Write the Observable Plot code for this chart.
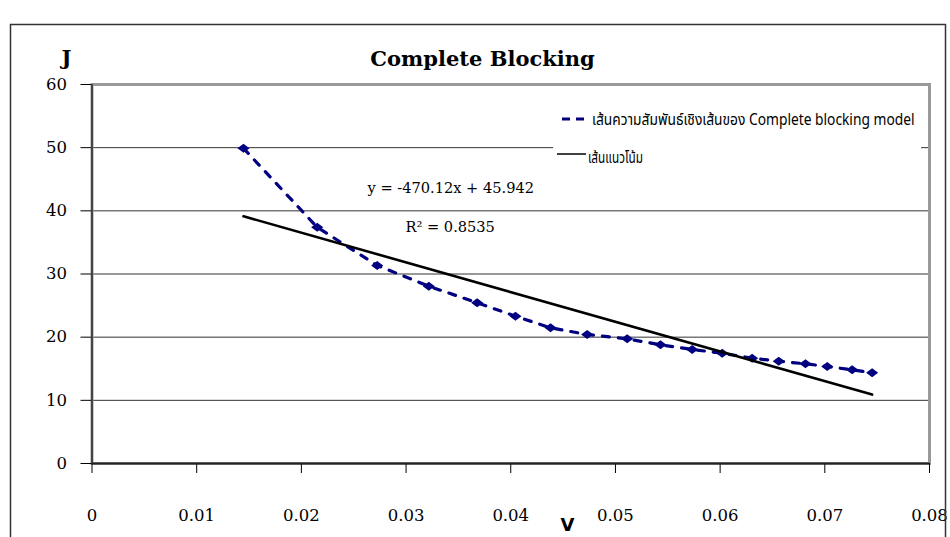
<!DOCTYPE html>
<html>
<head>
<meta charset="utf-8">
<script src="https://cdn.jsdelivr.net/npm/d3@7"></script>
<script src="https://cdn.jsdelivr.net/npm/@observablehq/plot@0.6"></script>
<style>
  html, body { margin: 0; padding: 0; background: #fff; }
  svg { display: block; }
</style>
</head>
<body>
<div id="chart"></div>
<script>
// ---- data ----
const vValues = [0.01447, 0.02151, 0.02724, 0.03217, 0.03679, 0.04045, 0.0438, 0.0473, 0.05112,
                 0.0543, 0.05733, 0.0602, 0.06306, 0.0656, 0.06815, 0.07023, 0.07261, 0.07452];
const jValues = [49.9, 37.4, 31.35, 28.07, 25.44, 23.32, 21.48, 20.42, 19.74,
                 18.79, 18.05, 17.46, 16.67, 16.2, 15.78, 15.36, 14.83, 14.36];
const trendV = [0.01447, 0.07452];
const trendJ = [39.14, 10.91];
const yTicks = [0, 10, 20, 30, 40, 50, 60];
const gridJ = [10, 20, 30, 40, 50];
const xTicks = [0, 0.01, 0.02, 0.03, 0.04, 0.05, 0.06, 0.07, 0.08];
const xTickLabels = ["0", "0.01", "0.02", "0.03", "0.04", "0.05", "0.06", "0.07", "0.08"];
const titleText = "Complete Blocking";
const yLabel = "J";
const xLabel = "V";
const eqText = "y = -470.12x + 45.942";
const r2Text = "R² = 0.8535";
const legendModel = "เส้นความสัมพันธ์เชิงเส้นของ Complete blocking model";
const legendTrend = "เส้นแนวโน้ม";

const points = vValues.map((v, i) => ({v, j: jValues[i]}));
const trend = trendV.map((v, i) => ({v, j: trendJ[i]}));

const serif = "'DejaVu Serif', 'Liberation Serif', serif";
const navy = "#000080";

// a diamond that is a little wider than tall, as in the reference
const wideDiamond = {
  draw(context, size) {
    const s = Math.sqrt(size);
    const w = s * 0.62, h = s * 0.46;
    context.moveTo(-w, 0);
    context.lineTo(0, -h);
    context.lineTo(w, 0);
    context.lineTo(0, h);
    context.closePath();
  }
};

const plot = Plot.plot({
  width: 950,
  height: 537,
  marginLeft: 91.5,
  marginRight: 21,
  marginTop: 84,
  marginBottom: 74,
  style: {fontFamily: serif, background: "white", overflow: "visible"},
  x: {domain: [0, 0.08]},
  y: {domain: [0, 60]},
  marks: [
    Plot.ruleY(gridJ, {stroke: "#333", strokeWidth: 1}),
    Plot.frame({stroke: "#999", strokeWidth: 3}),
    Plot.axisY({ticks: yTicks, tickSize: 11, tickPadding: 14, fontSize: 16.5, label: null,
                tickFormat: d => String(d), color: "#000"}),
    Plot.axisX({ticks: xTicks, tickSize: 10, tickPadding: 36, fontSize: 16.5, label: null,
                tickFormat: d => xTickLabels[xTicks.indexOf(d)], color: "#000"}),
    Plot.ruleX([0], {stroke: "#444", strokeWidth: 2}),
    Plot.ruleY([0], {stroke: "#222", strokeWidth: 2}),
    Plot.line(points, {x: "v", y: "j", stroke: navy, strokeWidth: 3.2, strokeDasharray: "7,9"}),
    Plot.dot(points, {x: "v", y: "j", symbol: wideDiamond, r: 5.5, fill: navy, stroke: null}),
    Plot.line(trend, {x: "v", y: "j", stroke: "#000", strokeWidth: 2.6}),
    Plot.text([eqText], {frameAnchor: "top-left", dx: 367 - 91.5, dy: 188 - 84, textAnchor: "start",
                         lineAnchor: "middle", fontSize: 14.6, fill: "#000"}),
    Plot.text([r2Text], {frameAnchor: "top-left", dx: 405 - 91.5, dy: 227 - 84, textAnchor: "start",
                         lineAnchor: "middle", fontSize: 14.6, fill: "#000"}),
    Plot.text([titleText], {frameAnchor: "top-left", dx: 482 - 91.5, dy: -19, textAnchor: "middle",
                            lineAnchor: "bottom", fontSize: 21, fontWeight: "bold", fill: "#000"}),
    Plot.text([yLabel], {frameAnchor: "top-left", dx: 66 - 91.5, dy: -20, textAnchor: "middle",
                         lineAnchor: "bottom", fontSize: 21, fontWeight: "bold", fill: "#000"}),
    Plot.text([xLabel], {frameAnchor: "bottom-left", dx: 567 - 91.5, dy: 67, textAnchor: "middle",
                         lineAnchor: "bottom", fontSize: 18, fontWeight: "bold",
                         fontFamily: "'DejaVu Sans', sans-serif", fill: "#000"})
  ]
});

document.getElementById("chart").appendChild(plot);

// outer chart-area border and legend (decoration)
const svg = d3.select(plot);
svg.append("rect")
  .attr("x", 10.5).attr("y", 24.5).attr("width", 935).attr("height", 600)
  .attr("fill", "none").attr("stroke", "#333").attr("stroke-width", 1.5);

const legFont = "'Liberation Sans Narrow', 'Arial Narrow', 'Noto Sans Thai', 'Loma', sans-serif";
const leg = svg.append("g");
leg.append("rect").attr("x", 553).attr("y", 96).attr("width", 368).attr("height", 78)
  .attr("fill", "#ffffff").attr("stroke", "none");
leg.append("line").attr("x1", 562).attr("x2", 584).attr("y1", 119).attr("y2", 119)
  .attr("stroke", navy).attr("stroke-width", 3).attr("stroke-dasharray", "8,6");
leg.append("line").attr("x1", 557).attr("x2", 586).attr("y1", 154).attr("y2", 154)
  .attr("stroke", "#000").attr("stroke-width", 1.5);

function legendText(str, x, y, targetWidth) {
  const t = leg.append("text").attr("x", 0).attr("y", 0)
    .attr("dominant-baseline", "middle").attr("text-anchor", "start")
    .attr("font-family", legFont).attr("font-size", 16.5).attr("fill", "#000").text(str);
  const w = t.node().getComputedTextLength() || targetWidth;
  t.attr("transform", `translate(${x},${y}) scale(${targetWidth / w},1)`);
}
legendText(legendModel, 592, 120, 323);
legendText(legendTrend, 588, 158, 55);
</script>
</body>
</html>
